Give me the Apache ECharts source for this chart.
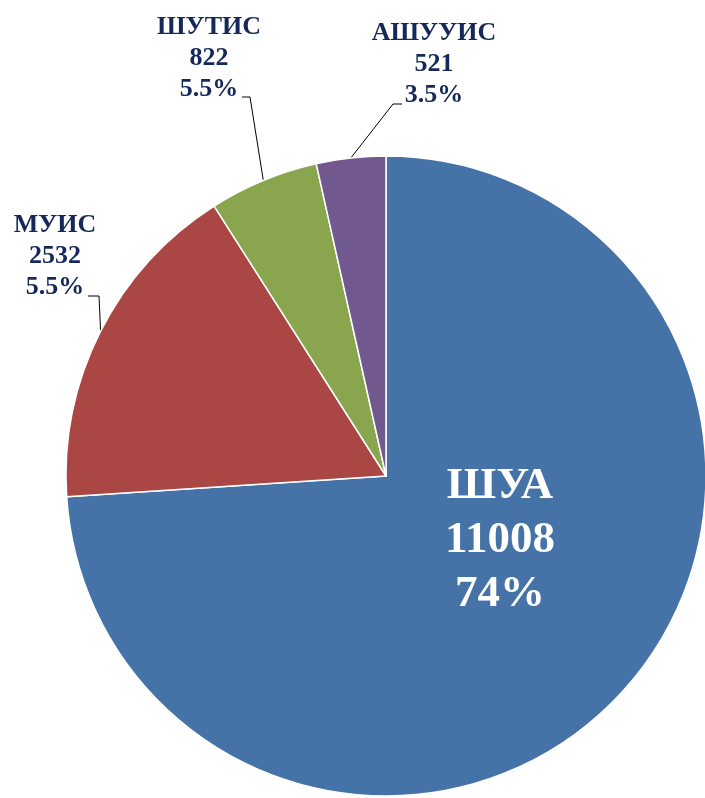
<!DOCTYPE html>
<html>
<head>
<meta charset="utf-8">
<script src="https://cdn.jsdelivr.net/npm/echarts@6/dist/echarts.min.js"></script>
<style>
html,body{margin:0;padding:0;background:#fff;}
#c{width:705px;height:798px;}
</style>
</head>
<body>
<div id="c"></div>
<script>
const categories = ['ШУА', 'МУИС', 'ШУТИС', 'АШУУИС'];
const values = [11008, 2532, 822, 521];
const percentLabels = ['74%', '5.5%', '5.5%', '3.5%'];

const colors = ['#4572A7', '#AA4643', '#89A54E', '#71588F'];
// label block centres and leader elbow offsets (layout only)
const labelCenters = [[500, 540], [55, 256], [209, 58], [434, 64]];
const elbowOffsets = [null, [[44, 40], [33, 40]], [[41, 39], [33, 39]], [[-41, 40], [-32, 40]]];

const chart = echarts.init(document.getElementById('c'));
const data = categories.map((n, i) => ({
  name: n,
  value: values[i],
  itemStyle: { color: colors[i] },
  label: i === 0 ? {
    position: 'inside', color: '#fff', fontSize: 45, lineHeight: 54
  } : {
    position: 'outside', color: '#14285a', fontSize: 26, lineHeight: 31
  },
  labelLine: { show: i !== 0 }
}));

chart.setOption({
  animation: false,
  series: [{
    type: 'pie',
    center: [386, 476],
    radius: 320,
    startAngle: 90,
    clockwise: true,
    avoidLabelOverlap: false,
    itemStyle: { borderColor: '#fff', borderWidth: 1.5 },
    label: {
      show: true,
      overflow: 'none',
      fontFamily: '"Liberation Serif", "Times New Roman", serif',
      fontWeight: 'bold',
      align: 'center',
      formatter: p => p.name + '\n' + p.value + '\n' + percentLabels[p.dataIndex]
    },
    labelLine: { lineStyle: { color: '#000', width: 1 }, smooth: false },
    data: data,
    labelLayout: function (p) {
      const i = p.dataIndex;
      const c = labelCenters[i];
      const out = { x: c[0], y: c[1], align: 'center', verticalAlign: 'middle' };
      if (i > 0 && p.labelLinePoints) {
        const p0 = p.labelLinePoints[0];
        const e = elbowOffsets[i];
        out.labelLinePoints = [p0, [c[0] + e[0][0], c[1] + e[0][1]], [c[0] + e[1][0], c[1] + e[1][1]]];
      }
      return out;
    }
  }]
});
</script>
</body>
</html>
